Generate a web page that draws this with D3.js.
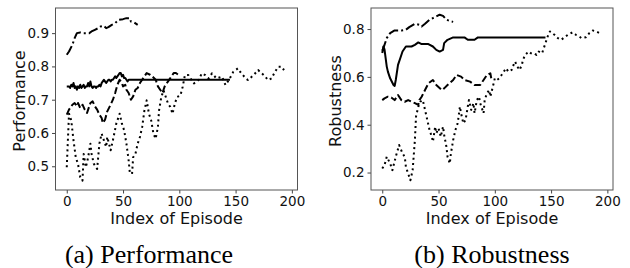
<!DOCTYPE html>
<html>
<head>
<meta charset="utf-8">
<script src="https://cdn.jsdelivr.net/npm/d3@7"></script>
<style>
  body { margin: 0; background: #fff; }
  svg { display: block; }
  .tick text { font-family: 'DejaVu Sans', sans-serif; font-size: 13.5px; fill: #111; }
  .axis-label { font-family: 'DejaVu Sans', sans-serif; font-size: 16px; fill: #111; }
  .caption { font-family: 'Liberation Serif', 'Times New Roman', serif; font-size: 26px; fill: #000; }
</style>
</head>
<body>
<script>
// [episode, value] pairs
const perfDashDot = [[0,0.835],[2,0.845],[5,0.865],[7,0.885],[9,0.9],[12,0.902],[15,0.9],[20,0.9],[22,0.905],[25,0.91],[28,0.915],[30,0.92],[33,0.922],[35,0.915],[37,0.918],[40,0.925],[43,0.93],[46,0.94],[50,0.942],[53,0.945],[56,0.945],[57,0.935],[60,0.932],[63,0.925]];
const perfSolid = [[0,0.74],[1,0.74],[2,0.74],[3,0.735],[4,0.745],[5,0.74],[6,0.75],[7,0.735],[8,0.74],[9,0.73],[10,0.74],[11,0.735],[12,0.745],[13,0.735],[14,0.74],[15,0.745],[16,0.735],[17,0.74],[18,0.74],[19,0.75],[20,0.74],[21,0.755],[22,0.74],[23,0.735],[24,0.74],[25,0.74],[26,0.735],[27,0.74],[28,0.74],[29,0.745],[30,0.74],[31,0.75],[32,0.755],[33,0.76],[34,0.755],[35,0.75],[36,0.755],[37,0.76],[38,0.76],[39,0.755],[40,0.76],[41,0.76],[42,0.765],[43,0.77],[44,0.765],[45,0.77],[46,0.775],[47,0.78],[48,0.78],[49,0.77],[50,0.775],[51,0.765],[52,0.765],[53,0.76],[54,0.755],[55,0.76],[145,0.76]];
const perfDashed = [[0,0.655],[2,0.67],[5,0.685],[7,0.69],[9,0.68],[10,0.69],[12,0.675],[14,0.685],[16,0.67],[18,0.66],[19,0.67],[21,0.69],[23,0.695],[25,0.68],[27,0.67],[29,0.655],[31,0.645],[32,0.63],[34,0.64],[36,0.665],[39,0.685],[41,0.7],[43,0.72],[45,0.745],[47,0.76],[49,0.75],[50,0.74],[52,0.745],[53,0.73],[55,0.72],[57,0.7],[59,0.71],[61,0.73],[63,0.735],[65,0.75],[67,0.76],[69,0.77],[71,0.78],[74,0.775],[76,0.77],[79,0.76],[81,0.74],[83,0.73],[85,0.72],[87,0.74],[90,0.755],[93,0.77],[95,0.78],[97,0.78],[99,0.775]];
const perfDotted = [[0,0.497],[2,0.658],[4,0.638],[6,0.578],[8,0.527],[10,0.507],[12,0.467],[14,0.457],[15,0.537],[17,0.497],[19,0.527],[21,0.568],[22,0.538],[24,0.508],[27,0.492],[29,0.568],[31,0.598],[33,0.578],[35,0.558],[36,0.588],[39,0.548],[41,0.578],[44,0.628],[47,0.658],[49,0.628],[51,0.608],[53,0.568],[55,0.517],[56,0.482],[58,0.477],[59,0.527],[61,0.537],[63,0.568],[65,0.588],[67,0.618],[69,0.668],[71,0.698],[73,0.658],[75,0.638],[77,0.598],[79,0.583],[81,0.618],[82,0.668],[84,0.708],[86,0.728],[88,0.708],[90,0.688],[92,0.678],[94,0.658],[96,0.688],[98,0.708],[101,0.713],[103,0.739],[105,0.774],[108,0.774],[113,0.749],[117,0.759],[120,0.779],[123,0.774],[126,0.764],[129,0.779],[133,0.764],[138,0.769],[141,0.744],[144,0.759],[148,0.784],[152,0.794],[154,0.784],[159,0.764],[161,0.759],[166,0.774],[170,0.789],[175,0.774],[179,0.759],[182,0.764],[185,0.784],[188,0.799],[191,0.799],[193,0.789]];

const robDashDot = [[0,0.71],[1,0.72],[4,0.762],[7,0.783],[11,0.794],[17,0.794],[21,0.797],[24,0.808],[29,0.822],[33,0.818],[35,0.811],[38,0.822],[42,0.839],[47,0.85],[51,0.86],[54,0.855],[57,0.839],[61,0.832],[63,0.83]];
const robSolid = [[0,0.70],[1,0.727],[2,0.715],[3,0.678],[4,0.643],[5,0.622],[7,0.594],[10,0.566],[11,0.562],[12,0.587],[14,0.65],[16,0.678],[18,0.706],[21,0.727],[26,0.727],[29,0.734],[32,0.744],[35,0.737],[41,0.737],[45,0.727],[48,0.713],[51,0.706],[54,0.713],[55,0.741],[58,0.755],[63,0.765],[73,0.765],[76,0.755],[82,0.755],[85,0.765],[145,0.765]];
const robDashed = [[0,0.503],[2,0.51],[5,0.517],[8,0.514],[11,0.503],[14,0.524],[17,0.503],[20,0.496],[23,0.503],[26,0.496],[29,0.49],[32,0.483],[33,0.503],[35,0.517],[38,0.545],[41,0.573],[45,0.587],[48,0.566],[53,0.545],[55,0.552],[58,0.566],[63,0.587],[66,0.608],[70,0.601],[73,0.587],[78,0.58],[82,0.566],[87,0.566],[90,0.587],[93,0.608],[96,0.615],[97,0.59]];
const robDotted = [[0,0.217],[2,0.231],[4,0.266],[7,0.238],[9,0.21],[12,0.266],[15,0.315],[18,0.28],[20,0.266],[21,0.224],[23,0.196],[25,0.168],[27,0.21],[29,0.336],[30,0.434],[32,0.475],[34,0.497],[36,0.503],[38,0.462],[40,0.42],[42,0.378],[44,0.35],[45,0.329],[47,0.392],[48,0.364],[50,0.385],[52,0.35],[54,0.392],[55,0.357],[57,0.308],[58,0.266],[60,0.238],[61,0.28],[63,0.336],[65,0.378],[67,0.406],[69,0.476],[70,0.448],[72,0.406],[74,0.42],[76,0.476],[77,0.503],[79,0.462],[81,0.49],[82,0.448],[84,0.503],[86,0.517],[87,0.49],[90,0.448],[91,0.503],[93,0.531],[95,0.545],[96,0.517],[99,0.573],[100,0.594],[102,0.587],[104,0.594],[106,0.608],[108,0.622],[110,0.636],[112,0.622],[115,0.629],[116,0.643],[118,0.664],[120,0.643],[122,0.629],[124,0.65],[125,0.671],[127,0.692],[130,0.706],[132,0.699],[135,0.699],[137,0.692],[139,0.706],[142,0.699],[145,0.741],[147,0.769],[149,0.79],[151,0.783],[153,0.776],[156,0.762],[159,0.755],[162,0.766],[165,0.776],[169,0.786],[172,0.776],[175,0.769],[177,0.762],[181,0.766],[184,0.783],[187,0.794],[190,0.79],[193,0.783]];

const xTicks = [0, 50, 100, 150, 200];
const perfTicks = [0.5, 0.6, 0.7, 0.8, 0.9];
const robTicks = [0.2, 0.4, 0.6, 0.8];

const styles = {
  solid: null,
  dashed: '7,3',
  dotted: '2,3.3',
  dashdot: '10,3,2,3'
};

const width = 630;
const height = 268;
const plotTop = 8;
const plotBottom = 190;

const svg = d3.select('body')
  .append('svg')
  .attr('width', width)
  .attr('height', height);

function panel(cfg) {
  const x = d3.scaleLinear().domain([-10, 205]).range([cfg.left, cfg.right]);
  const y = d3.scaleLinear().domain(cfg.yDomain).range([plotBottom, plotTop]);
  const g = svg.append('g');

  const line = d3.line().x(d => x(d[0])).y(d => y(d[1]));

  g.append('defs').append('clipPath').attr('id', cfg.id)
    .append('rect')
    .attr('x', cfg.left).attr('y', plotTop)
    .attr('width', cfg.right - cfg.left).attr('height', plotBottom - plotTop);

  const lines = g.append('g').attr('clip-path', `url(#${cfg.id})`);
  cfg.series.forEach(s => {
    lines.append('path')
      .datum(s.data)
      .attr('fill', 'none')
      .attr('stroke', '#000')
      .attr('stroke-width', 2)
      .attr('stroke-linejoin', 'round')
      .attr('stroke-dasharray', styles[s.style]);
  });
  lines.selectAll('path').attr('d', line);

  const xAxis = g.append('g')
    .attr('transform', `translate(0,${plotBottom})`)
    .call(d3.axisBottom(x).tickValues(xTicks).tickSize(3.5).tickPadding(3));
  const yAxis = g.append('g')
    .attr('transform', `translate(${cfg.left},0)`)
    .call(d3.axisLeft(y).tickValues(cfg.yTicks).tickSize(3.5).tickPadding(3).tickFormat(d3.format('.1f')));
  [xAxis, yAxis].forEach(a => {
    a.select('.domain').remove();
    a.selectAll('.tick line').attr('stroke', '#444');
  });

  g.append('rect')
    .attr('x', cfg.left).attr('y', plotTop)
    .attr('width', cfg.right - cfg.left).attr('height', plotBottom - plotTop)
    .attr('fill', 'none')
    .attr('stroke', '#555')
    .attr('stroke-width', 1);

  g.append('text')
    .attr('class', 'axis-label')
    .attr('text-anchor', 'middle')
    .attr('x', (cfg.left + cfg.right) / 2)
    .attr('y', 224)
    .text('Index of Episode');

  g.append('text')
    .attr('class', 'axis-label')
    .attr('text-anchor', 'middle')
    .attr('transform', `translate(${cfg.left - 30.5},${(plotTop + plotBottom) / 2 + 2}) rotate(-90)`)
    .text(cfg.yLabel);

  g.append('text')
    .attr('class', 'caption')
    .attr('text-anchor', 'middle')
    .attr('x', cfg.captionX)
    .attr('y', 263)
    .text(cfg.caption);
}

panel({
  id: 'clipA', left: 55.5, right: 297.5,
  yDomain: [0.4287, 0.9755], yTicks: perfTicks,
  yLabel: 'Performance', caption: '(a) Performance', captionX: 149,
  series: [
    { data: perfDotted, style: 'dotted' },
    { data: perfDashed, style: 'dashed' },
    { data: perfSolid, style: 'solid' },
    { data: perfDashDot, style: 'dashdot' }
  ]
});

panel({
  id: 'clipB', left: 371, right: 613,
  yDomain: [0.127, 0.888], yTicks: robTicks,
  yLabel: 'Robustness', caption: '(b) Robustness', captionX: 492,
  series: [
    { data: robDotted, style: 'dotted' },
    { data: robDashed, style: 'dashed' },
    { data: robSolid, style: 'solid' },
    { data: robDashDot, style: 'dashdot' }
  ]
});
</script>
</body>
</html>
